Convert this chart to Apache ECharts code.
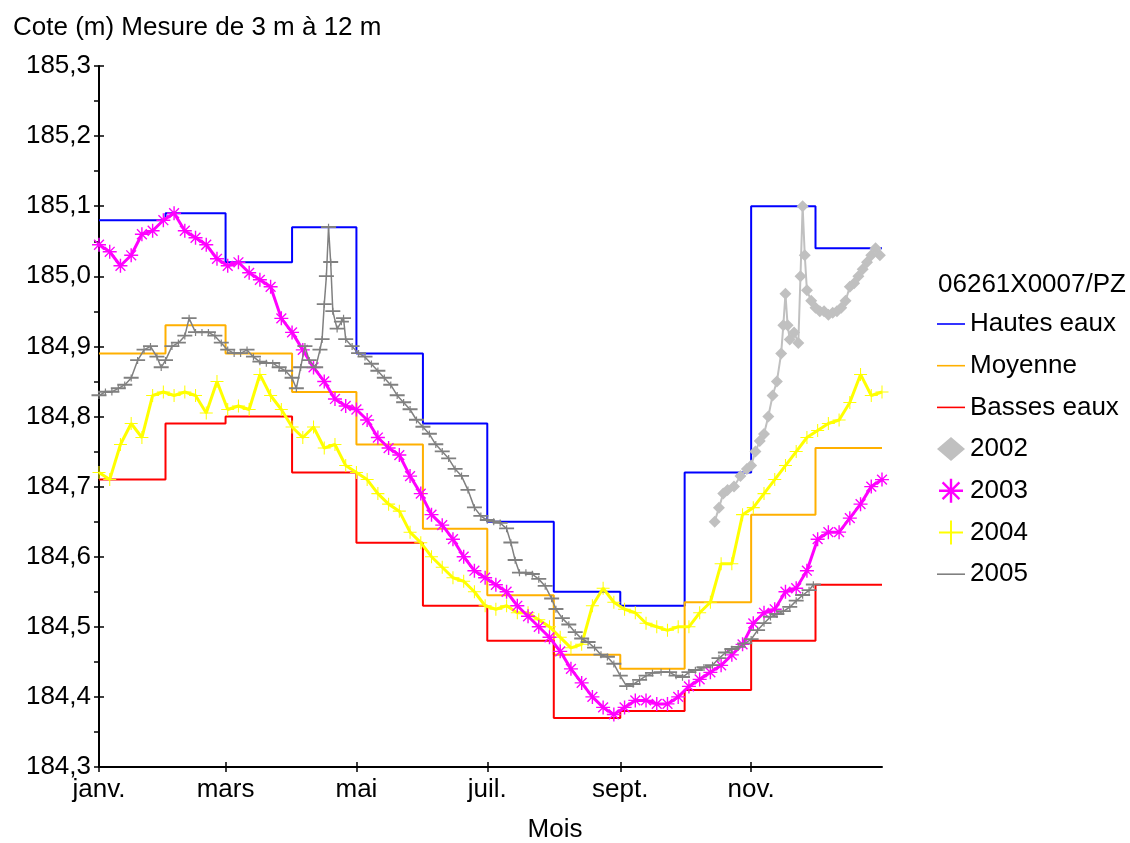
<!DOCTYPE html>
<html>
<head>
<meta charset="utf-8">
<script src="https://cdn.jsdelivr.net/npm/echarts@6/dist/echarts.min.js"></script>
<style>html,body{margin:0;padding:0;background:#fff;}#c{width:1130px;height:843px;}</style>
</head>
<body>
<div id="c"></div>
<script>
// ---- data ----
const monthStartDays = [0,31,59,90,120,151,181,212,243,273,304,334,365];
const hautesEaux = [185.08,185.09,185.02,185.07,184.89,184.79,184.65,184.55,184.53,184.72,185.10,185.04];
const moyenne    = [184.89,184.93,184.89,184.835,184.76,184.64,184.545,184.46,184.44,184.535,184.66,184.755];
const bassesEaux = [184.71,184.79,184.80,184.72,184.62,184.53,184.48,184.37,184.38,184.41,184.48,184.56];

const monthLabels = ['janv.','mars','mai','juil.','sept.','nov.'];
const monthLabelDays = [0,59,120,181,243,304];

const days2002 = [287,289,291,293,296,299,302,304,306,308,310,312,314,316,318,319,320,321,322,324,326,327,328,329,330,332,334,336,338,340,342,344,346,348,350,352,354,356,358,360,362,364];
const vals2002 = [184.65,184.67,184.69,184.695,184.70,184.715,184.725,184.73,184.75,184.765,184.775,184.80,184.83,184.85,184.89,184.93,184.975,184.93,184.91,184.92,184.905,185.00,185.10,185.03,184.98,184.965,184.955,184.95,184.95,184.945,184.948,184.95,184.955,184.965,184.985,184.99,185.00,185.01,185.02,185.03,185.04,185.03];

const step5Days = 5; // 2003 and 2004 sampled every 5 days from 1 janv.
const vals2003 = [185.045,185.035,185.015,185.03,185.06,185.065,185.08,185.09,185.065,185.055,
  185.045,185.025,185.015,185.02,185.005,184.995,184.985,184.94,184.92,184.895,
  184.87,184.85,184.825,184.815,184.81,184.795,184.77,184.755,184.745,184.715,
  184.69,184.66,184.645,184.625,184.60,184.58,184.57,184.56,184.55,184.53,
  184.515,184.50,184.485,184.465,184.44,184.42,184.40,184.385,184.375,184.385,
  184.395,184.395,184.39,184.39,184.40,184.415,184.425,184.435,184.445,184.46,
  184.475,184.505,184.52,184.525,184.55,184.555,184.58,184.625,184.635,184.635,
  184.655,184.675,184.70,184.71];
const vals2004 = [184.72,184.71,184.76,184.79,184.77,184.83,184.835,184.83,184.835,184.83,
  184.805,184.85,184.81,184.815,184.81,184.86,184.83,184.81,184.785,184.77,
  184.785,184.755,184.76,184.73,184.72,184.71,184.69,184.675,184.665,184.635,
  184.62,184.60,184.585,184.57,184.565,184.55,184.53,184.525,184.53,184.52,
  184.52,184.51,184.50,184.485,184.47,184.475,184.53,184.555,184.535,184.525,
  184.52,184.505,184.50,184.495,184.50,184.50,184.52,184.535,184.59,184.59,
  184.66,184.67,184.69,184.71,184.73,184.75,184.77,184.78,184.79,184.795,
  184.82,184.86,184.83,184.835];

const days2005 = [0,3,6,9,12,15,18,21,24,27,29,31,34,37,40,42,45,48,51,54,57,60,63,66,69,72,75,78,81,84,87,90,92,94,96,98,101,103,104,105,106,107,108,109,111,113,114,115,118,121,124,127,130,133,136,139,142,145,148,151,154,157,160,163,166,169,172,175,178,181,184,187,190,192,194,196,199,202,205,208,211,213,216,219,222,225,228,231,234,237,240,243,246,249,252,255,258,262,266,269,272,275,278,282,286,289,292,295,298,301,304,307,310,313,316,319,322,325,328,331,333];
const vals2005 = [184.83,184.835,184.835,184.84,184.845,184.855,184.88,184.895,184.90,184.885,184.87,184.88,184.90,184.905,184.915,184.94,184.92,184.92,184.92,184.915,184.905,184.895,184.89,184.89,184.895,184.885,184.878,184.876,184.876,184.87,184.865,184.855,184.84,184.87,184.90,184.88,184.87,184.895,184.91,184.96,185.00,185.07,185.02,184.95,184.925,184.935,184.94,184.91,184.90,184.89,184.885,184.875,184.865,184.855,184.845,184.83,184.82,184.81,184.795,184.785,184.775,184.76,184.75,184.74,184.725,184.715,184.695,184.67,184.658,184.652,184.65,184.648,184.64,184.62,184.595,184.577,184.577,184.575,184.568,184.558,184.54,184.525,184.512,184.503,184.492,184.483,184.478,184.47,184.46,184.457,184.447,184.43,184.415,184.418,184.424,184.43,184.434,184.435,184.435,184.43,184.428,184.435,184.438,184.442,184.445,184.455,184.463,184.468,184.471,184.476,184.482,184.495,184.505,184.514,184.518,184.522,184.528,184.537,184.545,184.552,184.56];

// ---- helpers ----
const FONT = "'Liberation Sans', Arial, sans-serif";
const FS = 26;
function stepData(vals){ return monthStartDays.map((d,i)=>[d, vals[Math.min(i, vals.length-1)]]); }
function pairs(days, vals){ return days.map((d,i)=>[d, vals[i]]); }
function regular(vals, step){ return vals.map((v,i)=>[i*step, v]); }

const asteriskPath = 'path://M9,0 H11 V20 H9 Z M0,9 H20 V11 H0 Z M2.3,3.7 L3.7,2.3 L17.7,16.3 L16.3,17.7 Z M16.3,2.3 L17.7,3.7 L3.7,17.7 L2.3,16.3 Z';
const plusPath = 'path://M9.2,0 H10.8 V20 H9.2 Z M0,9.2 H20 V10.8 H0 Z';
const barPath = 'path://M0,4 H20 V5.6 H0 Z M9.2,2 H10.8 V8 H9.2 Z';
const linePath = 'path://M0,0 H28 V1.6 H0 Z';

const C_HAUT='#0000ff', C_MOY='#ffb000', C_BAS='#ff0000', C_02='#c0c0c0', C_03='#ff00ff', C_04='#ffff00', C_05='#808080';

const chart = echarts.init(document.getElementById('c'), null, {renderer:'canvas'});
const axisCommon = {
  type:'value', splitLine:{show:false},
  axisLine:{show:true, lineStyle:{color:'#000', width:2}}
};
chart.setOption({
  animation:false,
  backgroundColor:'#fff',
  title:[
    {text:'Cote (m) Mesure de 3 m à 12 m', left:8, top:10, textStyle:{fontSize:FS, fontWeight:'normal', color:'#000', fontFamily:FONT}},
    {text:'06261X0007/PZ', left:933, top:267, textStyle:{fontSize:FS, fontWeight:'normal', color:'#000', fontFamily:FONT}}
  ],
  graphic:[{type:'text', x:555, y:830, style:{text:'Mois', fontSize:FS, fontFamily:FONT, fill:'#000', align:'center', verticalAlign:'middle'}}],
  legend:{
    orient:'vertical', left:932, top:305, itemWidth:28, itemHeight:24, itemGap:13.7,
    textStyle:{fontSize:FS, fontFamily:FONT, color:'#000', lineHeight:28},
    data:[
      {name:'Hautes eaux', icon:linePath},
      {name:'Moyenne', icon:linePath},
      {name:'Basses eaux', icon:linePath},
      {name:'2002', icon:'diamond'},
      {name:'2003', icon:asteriskPath},
      {name:'2004', icon:plusPath},
      {name:'2005', icon:linePath}
    ]
  },
  grid:{left:99, right:248, top:66, bottom:76, containLabel:false},
  xAxis:[
    Object.assign({}, axisCommon, {
      min:0, max:365, position:'bottom',
      axisTick:{show:true, inside:false, length:5, lineStyle:{color:'#000', width:1.5}, customValues:monthLabelDays},
      axisLabel:{show:true, margin:10, fontSize:FS, fontFamily:FONT, color:'#000', customValues:monthLabelDays,
        formatter:function(v){ const i = monthLabelDays.indexOf(Math.round(v)); return i>=0 ? monthLabels[i] : ''; }}
    }),
    Object.assign({}, axisCommon, {
      min:0, max:365, position:'bottom', offset:0,
      axisLine:{show:false},
      axisTick:{show:true, inside:true, length:5, lineStyle:{color:'#000', width:1.5}, customValues:monthLabelDays},
      axisLabel:{show:false}
    })
  ],
  yAxis:[
    Object.assign({}, axisCommon, {
      min:184.3, max:185.3, interval:0.1, position:'left',
      axisTick:{show:true, inside:false, length:5, lineStyle:{color:'#000', width:1.5}},
      minorTick:{show:true, splitNumber:2, length:5, lineStyle:{color:'#000', width:1.5}},
      axisLabel:{show:true, margin:8, fontSize:FS, fontFamily:FONT, color:'#000',
        formatter:function(v){ return v.toFixed(1).replace('.', ','); }}
    }),
    Object.assign({}, axisCommon, {
      min:184.3, max:185.3, interval:0.1, position:'left', offset:0,
      axisLine:{show:false},
      axisTick:{show:true, inside:true, length:5, lineStyle:{color:'#000', width:1.5}},
      minorTick:{show:false},
      axisLabel:{show:false}
    })
  ],
  series:[
    {name:'Hautes eaux', type:'line', step:'end', data:stepData(hautesEaux), showSymbol:false, symbol:'none',
      lineStyle:{color:C_HAUT, width:2}, itemStyle:{color:C_HAUT}, z:2},
    {name:'Moyenne', type:'line', step:'end', data:stepData(moyenne), showSymbol:false, symbol:'none',
      lineStyle:{color:C_MOY, width:2}, itemStyle:{color:C_MOY}, z:2},
    {name:'Basses eaux', type:'line', step:'end', data:stepData(bassesEaux), showSymbol:false, symbol:'none',
      lineStyle:{color:C_BAS, width:2}, itemStyle:{color:C_BAS}, z:2},
    {name:'2002', type:'line', data:pairs(days2002, vals2002), symbol:'diamond', symbolSize:12,
      lineStyle:{color:C_02, width:2}, itemStyle:{color:C_02}, z:3},
    {name:'2004', type:'line', data:regular(vals2004, step5Days), symbol:plusPath, symbolSize:13,
      lineStyle:{color:C_04, width:3}, itemStyle:{color:C_04}, z:3},
    {name:'2003', type:'line', data:regular(vals2003, step5Days), symbol:asteriskPath, symbolSize:14,
      lineStyle:{color:C_03, width:3}, itemStyle:{color:C_03}, z:4},
    {name:'2005', type:'line', data:pairs(days2005, vals2005), symbol:barPath, symbolSize:[15,7],
      lineStyle:{color:C_05, width:1.5}, itemStyle:{color:C_05}, z:5}
  ]
});
</script>
</body>
</html>
